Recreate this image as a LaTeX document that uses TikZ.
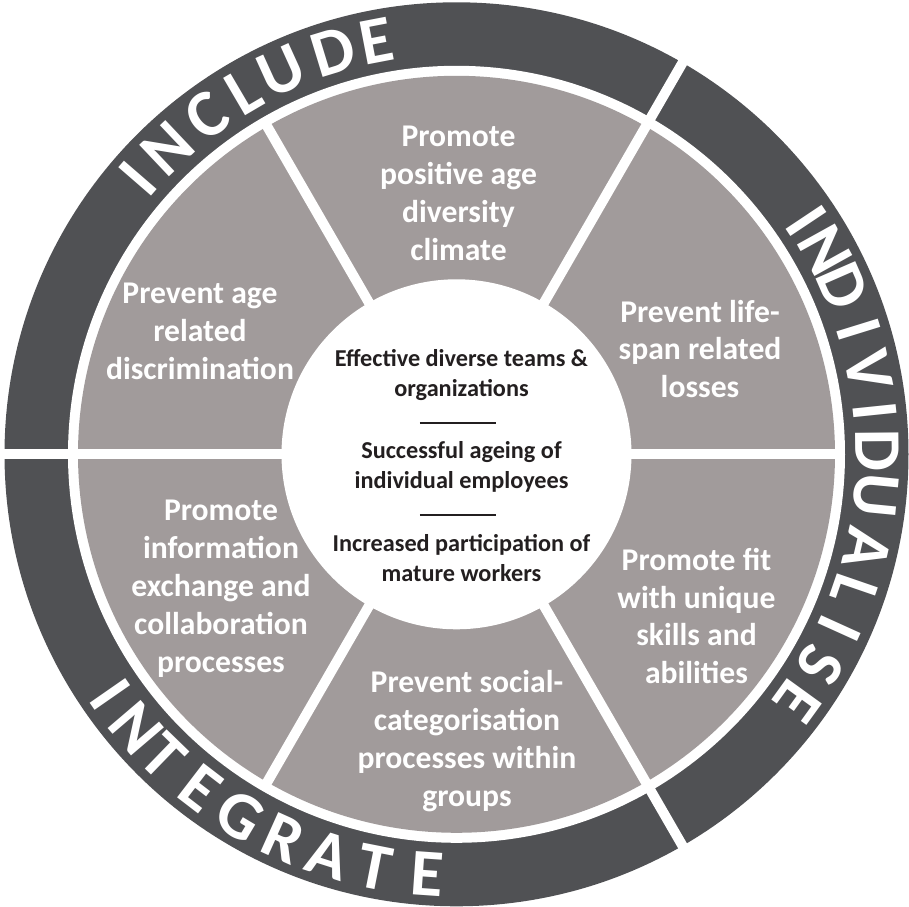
\documentclass[tikz,border=0pt]{standalone}
\usepackage{fontspec}
\setmainfont{Carlito}
\usepackage{tikz}
\usetikzlibrary{positioning}
\usepackage{xcolor}
\definecolor{ringdark}{RGB}{80,81,84}
\definecolor{wedgegray}{RGB}{161,155,155}
\definecolor{coreink}{RGB}{35,31,32}

\begin{document}
\begin{tikzpicture}[
    wedge/.style={font=\fontsize{9}{10.8}\selectfont\bfseries, text=white,
                  align=center, inner sep=0pt},
    core/.style={font=\fontsize{6.9}{8.5}\selectfont\bfseries, text=coreink,
                 align=center, inner sep=0pt},
    ringletter/.style={font=\fontsize{19}{22}\selectfont\bfseries, text=white,
                       inner sep=0pt},
    gap/.style={white, line width=0.1cm},
    sep/.style={coreink, line width=0.45pt}
]
\useasboundingbox (-4.565,-4.527) rectangle (4.525,4.543);

% Ring and wedges
\fill[ringdark] (0,0) circle (4.52);
\fill[white] (0,0) circle (3.885);
\fill[wedgegray] (0,0) circle (3.785);
\foreach \a in {0,120,240} \draw[gap] (0,0) -- (\a:3.86);
\foreach \a in {60,180,300} \draw[gap] (0,0) -- (\a:4.6);
\node[circle, fill=white, minimum size=3.5cm, inner sep=0pt] (core) at (0,0) {};

% Ring labels
\foreach \ch/\a [count=\i] in {I/139.1,N/133.4,C/126.4,L/120.4,U/114.5,D/107.0,E/100.9}
  \node[ringletter, rotate=\a-90] (include\i) at (\a:4.21) {\ch};
\foreach \ch/\a [count=\i] in {I/33.7,N/29.0,D/23.6,I/17.2,V/11.5,I/5.9,D/0.5,
                               U/-5.6,A/-13.0,L/-19.0,I/-24.4,S/-30.1,E/-35.9}
  \node[ringletter, rotate=\a-90] (indiv\i) at (\a:4.21) {\ch};
\foreach \ch/\a [count=\i] in {I/214.8,N/220.5,T/225.9,E/232.5,G/239.1,R/245.8,
                               A/252.3,T/258.8,E/266.0}
  \node[ringletter, rotate=\a+90] (integr\i) at (\a:4.21) {\ch};

% Wedges
\node[wedge] (climate) at (0.02,2.61) {Promote\\positive age\\diversity\\climate};
\node[wedge] (losses) at (2.435,1.053) {Prevent life-\\span related\\losses};
\node[wedge] (discrim) at (-2.565,1.228) {Prevent age\\related\\discrimination};
\node[wedge] (exchange) at (-2.355,-1.342) {Promote\\information\\exchange and\\collaboration\\processes};
\node[wedge] (socialcat) at (0.105,-2.867) {Prevent social-\\categorisation\\processes within\\groups};
\node[wedge] (fit) at (2.40,-1.617) {Promote fit\\with unique\\skills and\\abilities};

% Outcomes
\node[core] (teams) at (0.05,0.793) {Effective diverse teams \&\\organizations};
\node[core] (ageing) at (0.05,-0.127) {Successful ageing of\\individual employees};
\node[core] (mature) at (0.05,-1.037) {Increased participation of\\mature workers};
\draw[sep] (-0.365,0.313) -- (0.395,0.313);
\draw[sep] (-0.365,-0.607) -- (0.395,-0.607);

\end{tikzpicture}
\end{document}
